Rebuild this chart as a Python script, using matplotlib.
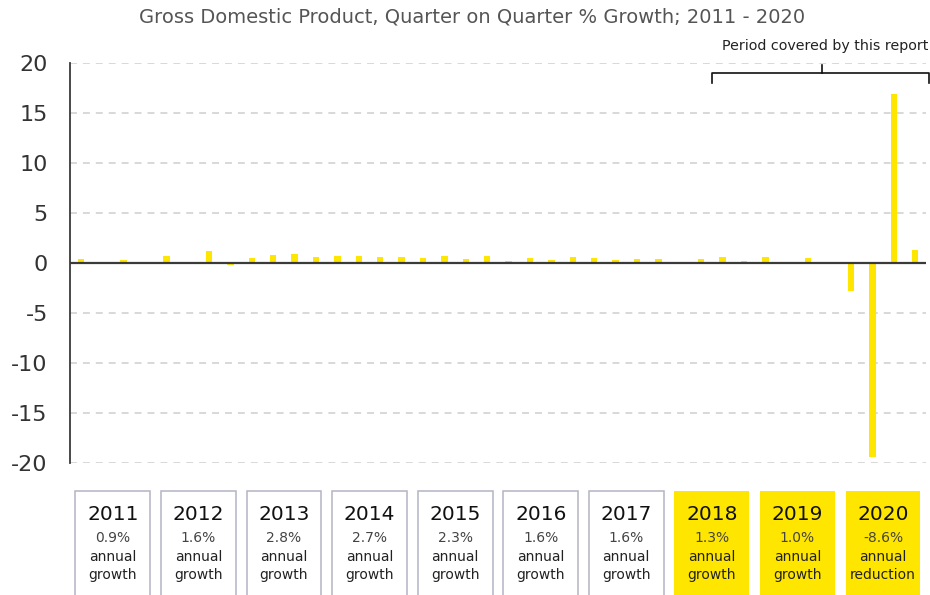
# GDP quarter-on-quarter growth, 2011 - 2020, with annual summary boxes
import matplotlib
matplotlib.use('Agg')
import matplotlib.pyplot as plt
from matplotlib.patches import Rectangle
from matplotlib.lines import Line2D
from matplotlib.transforms import blended_transform_factory
import numpy as np

plt.rcParams['font.family'] = ['DejaVu Sans']
plt.rcParams['lines.scale_dashes'] = False

# quarterly growth, % (Q1 2011 ... Q4 2020)
qoq = [0.35, 0.0, 0.25, 0.05,
       0.7, -0.05, 1.2, -0.2,
       0.5, 0.75, 0.85, 0.55,
       0.7, 0.65, 0.55, 0.55,
       0.45, 0.65, 0.35, 0.7,
       0.15, 0.45, 0.25, 0.55,
       0.45, 0.25, 0.35, 0.35,
       0.05, 0.35, 0.55, 0.15,
       0.55, 0.0, 0.5, 0.0,
       -2.8, -19.4, 16.9, 1.3]

years = ['2011', '2012', '2013', '2014', '2015', '2016', '2017', '2018', '2019', '2020']
annual = ['0.9%', '1.6%', '2.8%', '2.7%', '2.3%', '1.6%', '1.6%', '1.3%', '1.0%', '-8.6%']
annual_word = ['growth'] * 9 + ['reduction']
highlight = [False] * 7 + [True] * 3

yticks = [-20, -15, -10, -5, 0, 5, 10, 15, 20]

EY_YELLOW = '#FFE600'

fig = plt.figure(figsize=(9.3, 5.95), dpi=100)
ax = fig.add_axes([0.0753, 0.2224, 0.9202, 0.6722])

x = np.arange(len(qoq))
ax.bar(x, qoq, width=0.3, color=EY_YELLOW, zorder=2)

# dashed grid + dark zero line
for v in yticks:
    if v == 0:
        continue
    ax.axhline(v, color='#d6d6d6', lw=1.3, dashes=(5, 4.3), zorder=1)
ax.axhline(0, color='#3a3a3a', lw=1.6, zorder=3)

ax.set_xlim(-0.5, 39.5)
ax.set_ylim(-20, 20)
ax.set_yticks(yticks)
ax.set_yticklabels([str(v) for v in yticks])
ax.set_xticks([])
ax.tick_params(axis='y', length=0, pad=16, labelsize=16, labelcolor='#333333')
for s in ['top', 'right', 'bottom']:
    ax.spines[s].set_visible(False)
ax.spines['left'].set_color('#3a3a3a')
ax.spines['left'].set_linewidth(1.3)

fig.text(0.5075, 0.9714, 'Gross Domestic Product, Quarter on Quarter % Growth; 2011 - 2020',
         ha='center', va='center', fontsize=14, color='#555555')

# bracket over the report period
fig.text(0.998, 0.9227, 'Period covered by this report', ha='right', va='center',
         fontsize=10.3, color='#222222')
bx0, bx1, bxc = 0.7656, 0.999, 0.8839
by, bylo, byhi = 0.877, 0.8605, 0.8908
for xs, ys in [([bx0, bx0, bx1, bx1], [bylo, by, by, bylo]), ([bxc, bxc], [by, byhi])]:
    fig.add_artist(Line2D(xs, ys, color='#111111', lw=1.2, transform=fig.transFigure))

# annual summary boxes under each year
trans = blended_transform_factory(ax.transData, fig.transFigure)
for i, yr in enumerate(years):
    cx = 4 * i + 1.5
    if highlight[i]:
        box = Rectangle((cx - 1.75, -0.02), 3.5, 0.195, transform=trans, clip_on=False,
                        facecolor=EY_YELLOW, edgecolor='none', zorder=0.5)
    else:
        box = Rectangle((cx - 1.75, -0.02), 3.5, 0.195, transform=trans, clip_on=False,
                        facecolor='white', edgecolor='#b4b4c4', lw=1.1, zorder=0.5)
    ax.add_patch(box)
    ax.text(cx, 0.1345, yr, transform=trans, ha='center', va='center',
            fontsize=14.5, color='#111111', zorder=5)
    ax.text(cx, 0.0958, annual[i], transform=trans, ha='center', va='center',
            fontsize=10, color='#444444', zorder=5)
    ax.text(cx, 0.0639, 'annual', transform=trans, ha='center', va='center',
            fontsize=10, color='#222222', zorder=5)
    ax.text(cx, 0.0336, annual_word[i], transform=trans, ha='center', va='center',
            fontsize=10, color='#222222', zorder=5)

fig.savefig('out.png', dpi=100)
